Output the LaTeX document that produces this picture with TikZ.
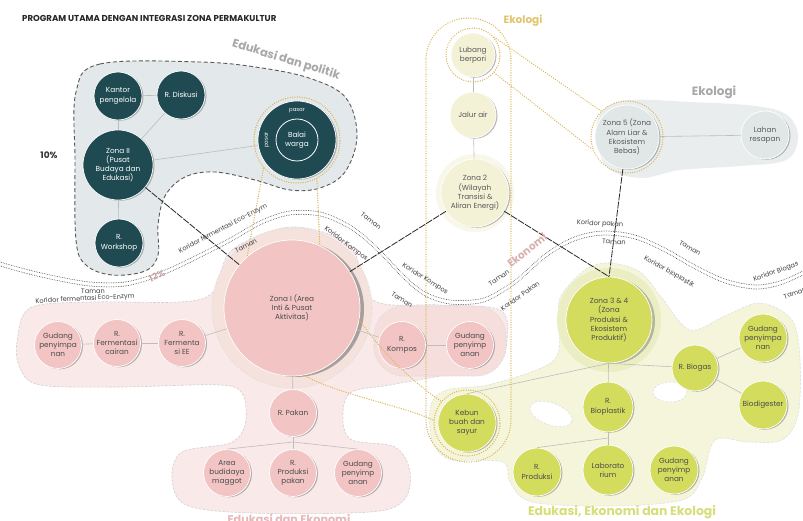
\documentclass[tikz,border=0pt]{standalone}
\usepackage{fontspec}
\setmainfont{Poppins}
\usetikzlibrary{shadows}
\definecolor{cTeal}{HTML}{1F4A52}
\definecolor{cPolFill}{HTML}{E3E8EA}
\definecolor{cPink}{HTML}{F2C4C4}
\definecolor{cPinkFill}{HTML}{F9E9E8}
\definecolor{cPinkSub}{HTML}{F6DEDD}
\definecolor{cPinkHalo}{HTML}{F5E2DC}
\definecolor{cPinkLbl}{HTML}{E8B7B7}
\definecolor{cCream}{HTML}{F3F1D6}
\definecolor{cCreamHalo}{HTML}{F8F7E9}
\definecolor{cGreen}{HTML}{D3DC5C}
\definecolor{cGreenFill}{HTML}{F4F5DA}
\definecolor{cGreenHalo}{HTML}{EBEEC2}
\definecolor{cGreenLbl}{HTML}{D6DE78}
\definecolor{cGold}{HTML}{DAB656}
\definecolor{cGoldLbl}{HTML}{E2C46E}
\definecolor{cGrayLbl}{HTML}{A8A8A8}
\definecolor{cEcoFill}{HTML}{E9EDEE}
\definecolor{cZfive}{HTML}{E1E7E7}
\definecolor{cLink}{HTML}{BDBDBD}
\newcommand\nodefont{\fontsize{7.3}{9.2}\selectfont}
\newcommand\corrfont{\fontsize{6.6}{7}\selectfont}
\newcommand\corrpath{plot[smooth,tension=0.55] coordinates {(0,264) (25,271) (55,278) (90,284) (125,284) (160,274) (195,258) (230,240) (262,222) (290,213) (320,214) (345,224) (365,238) (385,257) (405,278) (425,294) (450,302) (480,301) (500,292) (520,278) (540,260) (560,246) (580,237) (605,233) (635,237) (665,250) (695,267) (725,281) (755,287) (780,283) (803,273)}}
\begin{document}
\begin{tikzpicture}[x=1pt,y=-1pt,
  base/.style={circle,inner sep=0pt,align=center,font=\nodefont,draw=white,line width=0.7pt},
  shd/.style={drop shadow={shadow xshift=1.5pt,shadow yshift=-0.8pt,fill=black!60,opacity=0.45}},
  tealnd/.style={base,shd,fill=cTeal,text=white,minimum size=48pt},
  pinknd/.style={base,shd,fill=cPink,text=black!70,minimum size=47pt},
  creamnd/.style={base,shd,fill=cCream,text=black!65,minimum size=46pt},
  greennd/.style={base,shd,fill=cGreen,text=black!70,minimum size=48pt},
  graynd/.style={base,shd,fill=cZfive,text=black!65,minimum size=48pt},
  ringnd/.style={circle,draw=cGold,line width=1.4pt,dash pattern=on 0pt off 2.4pt,line cap=round,inner sep=0pt},
  polreg/.style={fill=cPolFill,draw=black!65,line width=0.9pt,dash pattern=on 4pt off 2.5pt},
  pinkreg/.style={fill=cPinkFill,draw=black!18,line width=0.6pt,dash pattern=on 2.5pt off 1.5pt},
  greenreg/.style={fill=cGreenFill,draw=black!12,line width=0.6pt,dash pattern=on 2.5pt off 1.5pt},
  golddot/.style={draw=cGold,line width=1.4pt,dash pattern=on 0pt off 2.4pt,line cap=round},
  corr/.style={draw=black!80,line width=0.8pt,dash pattern=on 0pt off 1.7pt,line cap=round},
  link/.style={draw=cLink,line width=0.6pt},
  zlink/.style={draw=black!85,line width=0.8pt,dash pattern=on 7pt off 1.2pt},
  clbl/.style={font=\corrfont,text=black!75,inner sep=0pt},
  rlbl/.style={font=\bfseries\fontsize{11.5}{13}\selectfont,inner sep=0pt}
]
\useasboundingbox (0,0) rectangle (803,521);
\fill[white] (0,0) rectangle (803,521);

% ---------- regions ----------
\draw[polreg] plot[smooth cycle,tension=0.6] coordinates {(76,92) (100,64) (200,62) (262,68) (312,79) (346,98) (357,136) (345,172) (320,188) (290,190) (255,180) (215,172) (185,177) (165,196) (158,225) (158,255) (145,271) (112,275) (86,265) (76,240) (75,160)};
\fill[cEcoFill] plot[smooth cycle,tension=0.6] coordinates {(597,122) (622,101) (690,102) (755,106) (787,115) (798,137) (786,160) (740,166) (680,170) (640,178) (605,165)};
\draw[greenreg] plot[smooth cycle,tension=0.55] coordinates {(560,298) (585,270) (609,263) (640,272) (662,298) (690,330) (725,316) (760,303) (792,320) (800,360) (798,415) (782,440) (748,442) (715,440) (702,478) (682,500) (610,506) (532,502) (510,482) (505,463) (478,460) (448,459) (432,440) (431,405) (447,390) (492,384) (552,362) (560,330)};
\draw[fill=white,draw=black!12,line width=0.6pt,dash pattern=on 2.5pt off 1.5pt,rotate around={-20:(551,414)}] (551,414) ellipse (22pt and 11pt);
\draw[fill=white,draw=black!12,line width=0.6pt,dash pattern=on 2.5pt off 1.5pt] (670,392) ellipse (17pt and 10pt);
\fill[cGreenHalo] (609,320) circle (52pt);
\draw[pinkreg] plot[smooth cycle,tension=0.55] coordinates {(17,342) (30,308) (90,302) (180,302) (213,292) (232,250) (292,227) (350,246) (373,300) (440,305) (500,310) (507,340) (495,366) (440,376) (390,385) (350,393) (343,420) (352,440) (395,447) (410,472) (404,500) (370,512) (250,513) (186,505) (172,478) (182,452) (230,443) (245,425) (243,395) (220,385) (120,387) (40,385) (20,368)};
\draw[fill=cPinkSub,draw=black!14,line width=0.6pt,dash pattern=on 2.5pt off 1.5pt,rounded corners=30pt] (374,306) rectangle (506,376);
\draw[fill=cPinkHalo,draw=black!12,line width=0.6pt,dash pattern=on 2.5pt off 1.5pt] (292,308) circle (80pt);
\fill[cCreamHalo] (475,193) circle (39pt);

% ---------- corridor ----------
\draw[corr,yshift=2pt] \corrpath;
\draw[corr,yshift=-2pt] \corrpath;

% ---------- ecology column and rings ----------
\draw[golddot,rounded corners=42pt] (426,18) rectangle (511,462);
\node[ringnd,minimum size=54pt] (lubR) at (473,55) {};
\node[ringnd,minimum size=72pt] (zfiveR) at (627,137) {};
\node[ringnd,minimum size=66pt] (kebR) at (467,423) {};
\node[ringnd,minimum size=86pt] (balR) at (297,140) {};

% ---------- nodes ----------
\node[tealnd] (kantor) at (118,96) {Kantor\\pengelola};
\node[tealnd] (diskusi) at (181,95) {R. Diskusi};
\node[tealnd,minimum size=70pt] (zII) at (118,165) {Zona II\\(Pusat\\Budaya dan\\Edukasi)};
\node[tealnd] (workshop) at (119,243) {R.\\Workshop};
\node[tealnd,minimum size=78pt] (balai) at (297,140) {Balai\\warga};
\draw[white,line width=0.8pt] (balai.center) circle (21pt);
\node[font=\fontsize{5.4}{5.5}\selectfont,text=white,inner sep=0pt] (pasarT) at (297,111) {pasar};
\node[font=\fontsize{5.4}{5.5}\selectfont,text=white,inner sep=0pt,rotate=90] (pasarL) at (267,140) {pasar};

\node[creamnd,minimum size=44pt] (lubang) at (473,55) {Lubang\\berpori};
\node[creamnd] (jalur) at (473,115) {Jalur air};
\node[creamnd,minimum size=68pt] (ztwo) at (475,193) {Zona 2\\(Wilayah\\Transisi \&\\Aliran Energi)};

\node[graynd,minimum size=64pt] (zfive) at (627,137) {Zona 5 (Zona\\Alam Liar \&\\Ekosistem\\Bebas)};
\node[graynd] (lahan) at (765,135) {Lahan\\resapan};

\node[base,fill=cPink,text=black!70,minimum size=136pt,drop shadow={shadow xshift=4pt,shadow yshift=-1pt,fill=black!55,opacity=0.6}] (zI) at (292,308) {Zona I (Area\\Inti \& Pusat\\Aktivitas)};
\node[pinknd] (gudL) at (58,345) {Gudang\\penyimpa\\nan};
\node[pinknd] (fcair) at (117,343) {R.\\Fermentasi\\cairan};
\node[pinknd] (fee) at (182,343) {R.\\Fermenta\\si EE};
\node[pinknd] (kompos) at (402,345) {R.\\Kompos};
\node[pinknd] (gudR) at (470,345) {Gudang\\penyimp\\anan};
\node[pinknd] (pakan) at (293,413) {R. Pakan};
\node[pinknd] (maggot) at (227,473) {Area\\budidaya\\maggot};
\node[pinknd] (prodpk) at (293,473) {R.\\Produksi\\pakan};
\node[pinknd] (gudB) at (358,473) {Gudang\\penyimp\\anan};

\node[base,fill=cGreen,text=black!70,minimum size=86pt,drop shadow={shadow xshift=3pt,shadow yshift=-1pt,fill=black!50,opacity=0.5}] (zthree) at (609,320) {Zona 3 \& 4\\(Zona\\Produksi \&\\Ekosistem\\Produktif)};
\node[greennd,minimum size=46pt] (biogas) at (695,368) {R. Biogas};
\node[greennd] (gudG) at (763,338) {Gudang\\penyimpa\\nan};
\node[greennd] (digester) at (763,405) {Biodigester};
\node[greennd,minimum size=50pt] (bioplas) at (608,407) {R.\\Bioplastik};
\node[greennd] (rprod) at (537,472) {R.\\Produksi};
\node[greennd,minimum size=50pt] (lab) at (608,470) {Laborato\\rium};
\node[greennd] (gudG2) at (674,470) {Gudang\\penyimp\\anan};
\node[greennd,minimum size=58pt] (kebun) at (467,423) {Kebun\\buah dan\\sayur};

% ---------- gold connectors ----------
\draw[golddot] (lubR.40) -- (zfiveR.135);
\draw[golddot] (lubR.-40) -- (zfiveR.200);
\draw[golddot] (balR.220) -- (zI.131);
\draw[golddot] (balR.297) -- (zI.66);
\draw[golddot] (zI.-80) .. controls (340,395) and (400,405) .. (kebR.175);
\draw[golddot] (zI.-10) .. controls (380,350) and (410,380) .. (kebR.140);

% ---------- grey links ----------
\draw[link] (kantor) -- (diskusi);
\draw[link] (kantor) -- (zII);
\draw[link] (zII) -- (diskusi);
\draw[link] (zII) -- (balai);
\draw[link] (zII) -- (workshop);
\draw[link] (lubang) -- (jalur);
\draw[link] (jalur) -- (ztwo);
\draw[link] (zfive) -- (lahan);
\draw[link] (gudL) -- (fcair);
\draw[link] (fcair) -- (fee);
\draw[link] (fee) -- (zI);
\draw[link] (zI) -- (kompos);
\draw[link] (kompos) -- (gudR);
\draw[link] (zI) -- (pakan);
\coordinate (pk) at (293,442);
\draw[link] (pakan) -- (pk);
\draw[link] (pk) -- (maggot.north);
\draw[link] (pk) -- (prodpk);
\draw[link] (pk) -- (gudB.north);
\draw[link] (zthree.south) -- (kebun.north);
\draw[link] (zthree) -- (bioplas);
\draw[link] (zthree.south) -- (biogas);
\draw[link] (biogas) -- (gudG);
\draw[link] (biogas) -- (digester);
\coordinate (bp) at (608,438);
\draw[link] (bioplas) -- (bp);
\draw[link] (bp) -- (rprod.north);
\draw[link] (bp) -- (lab);

% ---------- zone lines ----------
\draw[zlink] (zII) -- (zI);
\draw[zlink] (zI) -- (ztwo);
\draw[zlink] (ztwo) -- (zthree.north);
\draw[zlink] (zfive) -- (zthree.north);

% ---------- labels ----------
\node[font=\bfseries\fontsize{8.6}{10}\selectfont,text=black!85,anchor=west,inner sep=0pt] (title) at (22,18) {PROGRAM UTAMA DENGAN INTEGRASI ZONA PERMAKULTUR};
\node[rlbl,text=cGrayLbl,rotate=-17] (lpol) at (286,60) {Edukasi dan politik};
\node[rlbl,text=cGoldLbl,font=\bfseries\fontsize{10.5}{12}\selectfont] (leko1) at (523,21) {Ekologi};
\node[rlbl,text=cGrayLbl,font=\bfseries\fontsize{12}{13}\selectfont] (leko2) at (714,92) {Ekologi};
\node[rlbl,text=cPinkLbl,font=\bfseries\fontsize{11.2}{13}\selectfont] (ledek) at (289,519) {Edukasi dan Ekonomi};
\node[rlbl,text=cGreenLbl,font=\bfseries\fontsize{12.4}{14}\selectfont] (ledee) at (622,512) {Edukasi, Ekonomi dan Ekologi};
\node[rlbl,text=cPinkLbl!85!gray,rotate=38,font=\bfseries\fontsize{10.5}{12}\selectfont] (lekon) at (527,250) {Ekonomi};
\node[font=\bfseries\fontsize{9}{10}\selectfont,text=black!80,inner sep=0pt] (p10) at (49,155) {10\%};
\node[font=\bfseries\fontsize{9}{10}\selectfont,text=cPinkLbl!70!gray,rotate=22] (p12) at (157,276) {12\%};

\node[clbl] (t1) at (93,291) {Taman};
\node[clbl,rotate=3] (k1) at (85,299) {Koridor fermentasi Eco-Enzym};
\node[clbl,rotate=28] (k2) at (223,229) {Koridor fermentasi Eco-Enzym};
\node[clbl,rotate=28] (t2) at (246,246) {Taman};
\node[clbl,rotate=-37] (t3) at (371,221) {Taman};
\node[clbl,rotate=-37] (k3) at (346,244) {Koridor Kompos};
\node[clbl,rotate=-32] (k4) at (425,279) {Koridor Kompos};
\node[clbl,rotate=-32] (t4) at (402,300) {Taman};
\node[clbl,rotate=35] (t5) at (499,278) {Taman};
\node[clbl,rotate=35] (k5) at (520,296) {Koridor Pakan};
\node[clbl,rotate=-3] (k6) at (600,224) {Koridor pakan};
\node[clbl,rotate=-3] (t6) at (614,242) {Taman};
\node[clbl,rotate=-30] (t7) at (690,248) {Taman};
\node[clbl,rotate=-30] (k7) at (669,272) {Koridor bioplastik};
\node[clbl,rotate=20] (k8) at (776,272) {Koridor Biogas};
\node[clbl,rotate=20] (t8) at (795,293) {Taman};
\end{tikzpicture}
\end{document}
